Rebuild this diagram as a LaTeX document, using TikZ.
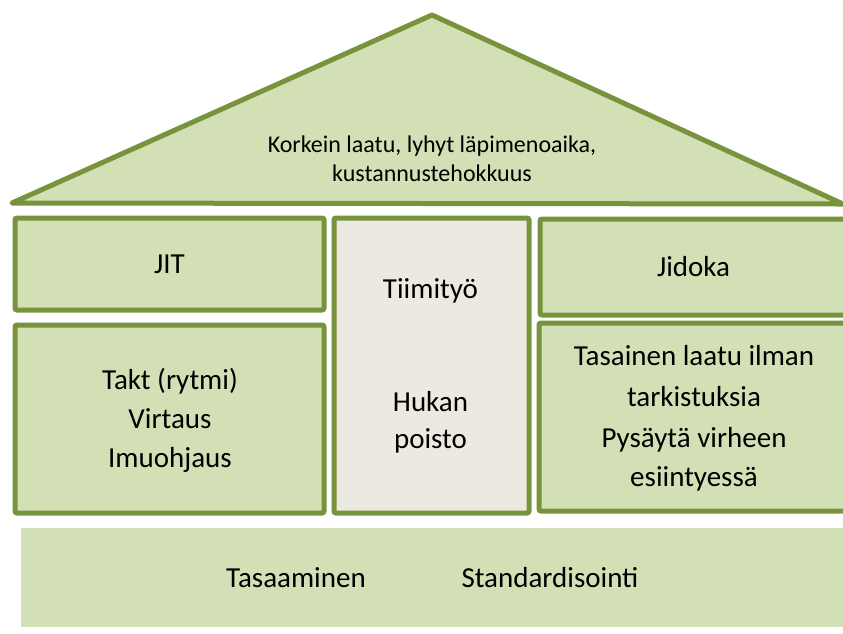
\documentclass[tikz,border=0pt]{standalone}
\usepackage{fontspec}
\setmainfont{Carlito}
\definecolor{roofgreen}{HTML}{D3E0B6}
\definecolor{edgegreen}{HTML}{77933C}
\definecolor{midfill}{HTML}{ECEAE0}
\begin{document}
\begin{tikzpicture}[x=1pt,y=-1pt,
  box/.style={draw=edgegreen,line width=5pt,fill=roofgreen,rounded corners=2pt,inner sep=0pt,anchor=center},
  lbl/.style={font=\fontsize{29}{39}\selectfont,align=center,anchor=base,inner sep=0pt},
  rooflbl/.style={font=\fontsize{24}{29}\selectfont,align=center,anchor=base,inner sep=0pt}]
\useasboundingbox (0,0) rectangle (843,633);
\clip (0,0) rectangle (843,633);
% roof
\draw[draw=edgegreen,line width=5pt,fill=roofgreen,line join=round] (12,203) -- (432,15) -- (843,204) -- cycle;
\node[rooflbl] (roof1) at (432,152) {Korkein laatu, lyhyt läpimenoaika,};
\node[rooflbl] (roof2) at (432,181) {kustannustehokkuus};
% left pillar
\node[box,minimum width=309pt,minimum height=92pt] (jit) at (169.5,264) {};
\node[lbl] (jitt) at (169.5,273) {JIT};
\node[box,minimum width=309pt,minimum height=188pt] (takt) at (169.5,419) {};
\node[lbl] (takt1) at (170,389) {Takt (rytmi)};
\node[lbl] (takt2) at (170,428) {Virtaus};
\node[lbl] (takt3) at (170,467) {Imuohjaus};
% middle pillar
\node[box,fill=midfill,minimum width=195pt,minimum height=295pt] (mid) at (431.5,365.5) {};
\node[lbl] (tiimi) at (430.5,298) {Tiimityö};
\node[lbl] (hukan) at (430.5,411) {Hukan};
\node[lbl] (poisto) at (430.5,448) {poisto};
% right pillar
\node[box,minimum width=312pt,minimum height=96pt] (jid) at (696,267) {};
\node[lbl] (jidt) at (693.5,276) {Jidoka};
\node[box,minimum width=313pt,minimum height=188pt] (tas) at (695.5,417) {};
\node[lbl] (tas1) at (694,365) {Tasainen laatu ilman};
\node[lbl] (tas2) at (694,406) {tarkistuksia};
\node[lbl] (tas3) at (694,447) {Pysäytä virheen};
\node[lbl] (tas4) at (694,486) {esiintyessä};
% foundation
\fill[roofgreen] (21,528) rectangle (843,627);
\node[lbl] (base1) at (296,587) {Tasaaminen};
\node[lbl] (base2) at (550,587) {Standardisointi};
\end{tikzpicture}
\end{document}
